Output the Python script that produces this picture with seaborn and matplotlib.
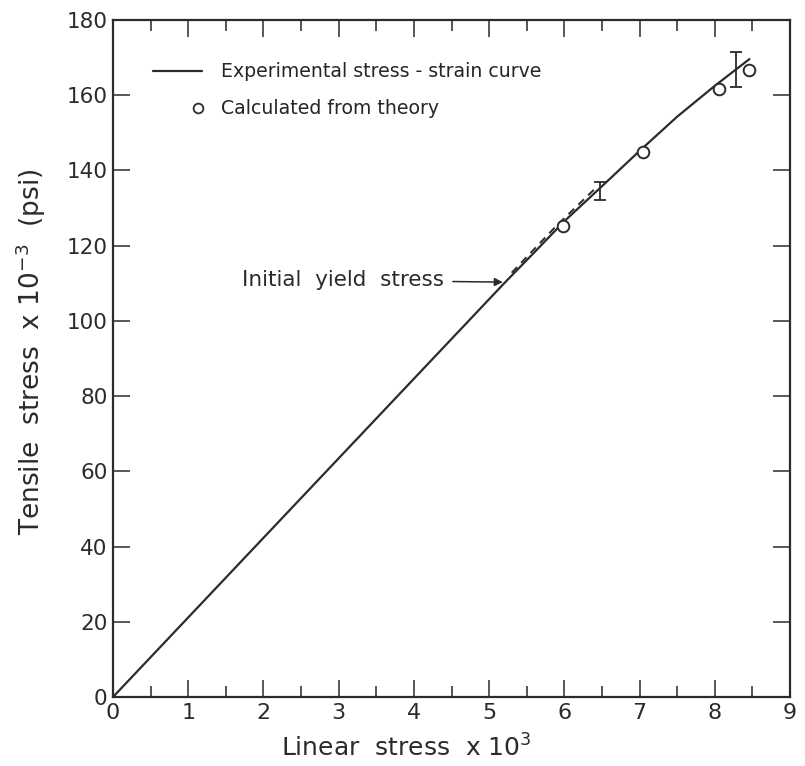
import numpy as np
import pandas as pd
import seaborn as sns
import matplotlib.pyplot as plt
from matplotlib.lines import Line2D
from matplotlib.legend_handler import HandlerLine2D
from matplotlib.ticker import MultipleLocator

# experimental stress-strain curve
curve_x = [0, 5.2, 5.6, 6.0, 6.5, 7.0, 7.5, 8.0, 8.46]
curve_y = [0, 110, 118.2, 126.5, 135.8, 145.2, 154.3, 162.5, 169.6]

# short dashed segment running along the curve after yield
dash_x = [5.3, 5.9, 6.4]
dash_y = [112.8, 125.4, 135.0]

# points calculated from theory
theory_x = [5.98, 7.05, 8.06, 8.46]
theory_y = [125.2, 145.0, 161.7, 166.7]

# error bars on the experimental curve
err_x = [6.48, 8.28]
err_y = [134.5, 166.8]
err_half = [2.4, 4.7]

x_ticks = list(range(0, 10))
y_ticks = list(range(0, 181, 20))

sns.set_style("white")
plt.rcParams['font.family'] = ['DejaVu Sans']
ink = '#2b2b2b'


class RightMarker(HandlerLine2D):
    # put the single legend marker near the right end of the handle box
    def get_xdata(self, legend, xdescent, ydescent, width, height, fontsize):
        pos = -xdescent + 0.9 * width
        return [pos, pos], [pos]


fig = plt.figure(figsize=(8.05, 7.66), dpi=100)
ax = fig.add_axes([0.1404, 0.0901, 0.8410, 0.8838])

curve = pd.DataFrame({'x': curve_x, 'y': curve_y})
theory = pd.DataFrame({'x': theory_x, 'y': theory_y})

sns.lineplot(data=curve, x='x', y='y', ax=ax, color=ink, linewidth=1.6,
             sort=False, estimator=None)
ax.plot(dash_x, dash_y, color=ink, linewidth=1.4, linestyle=(0, (4, 3)))
sns.scatterplot(data=theory, x='x', y='y', ax=ax, marker='o', s=70,
                facecolor='white', edgecolor=ink, linewidth=1.4, zorder=5)
ax.errorbar(err_x, err_y, yerr=err_half, fmt='none', ecolor=ink,
            elinewidth=1.3, capsize=4, capthick=1.3, zorder=4)

ax.annotate('Initial  yield  stress', xy=(5.2, 110.3), xytext=(4.4, 110.8),
            fontsize=15.5, color=ink, ha='right', va='center',
            arrowprops=dict(arrowstyle='-|>', color=ink, lw=1.1,
                            shrinkA=4, shrinkB=1, mutation_scale=12))

ax.set_xlim(0, 9)
ax.set_ylim(0, 180)
ax.set_xticks(x_ticks)
ax.set_yticks(y_ticks)
ax.xaxis.set_minor_locator(MultipleLocator(0.5))
ax.set_xticklabels([str(t) for t in x_ticks], fontsize=16, color=ink)
ax.set_yticklabels([str(t) for t in y_ticks], fontsize=15.5, color=ink)
ax.tick_params(axis='x', which='major', direction='in', length=12, width=1.1,
               top=True, bottom=True, pad=4, colors=ink)
ax.tick_params(axis='x', which='minor', direction='in', length=8, width=1.1,
               top=True, bottom=True)
ax.tick_params(axis='y', which='major', direction='in', length=12, width=1.1,
               left=True, right=True, pad=4, colors=ink)
for s in ax.spines.values():
    s.set_linewidth(1.6)
    s.set_color(ink)

ax.set_xlabel('Linear  stress  x 10$^3$', fontsize=18, color=ink)
ax.xaxis.set_label_coords(0.433, -0.056)
ax.set_ylabel('Tensile  stress  x 10$^{-3}$  (psi)', fontsize=19, color=ink)
ax.yaxis.set_label_coords(-0.096, 0.51)

handles = [Line2D([], [], color=ink, linewidth=1.6),
           Line2D([], [], color=ink, marker='o', linestyle='none',
                  markerfacecolor='white', markersize=7, markeredgewidth=1.3)]
ax.legend(handles, ['Experimental stress - strain curve',
                    'Calculated from theory'],
          handler_map={handles[1]: RightMarker()},
          loc='upper left', bbox_to_anchor=(0.04, 0.957), frameon=False,
          fontsize=13.6, handlelength=2.6, handletextpad=1.0, labelspacing=0.95,
          borderpad=0.2)

plt.savefig('out.png', dpi=100)
